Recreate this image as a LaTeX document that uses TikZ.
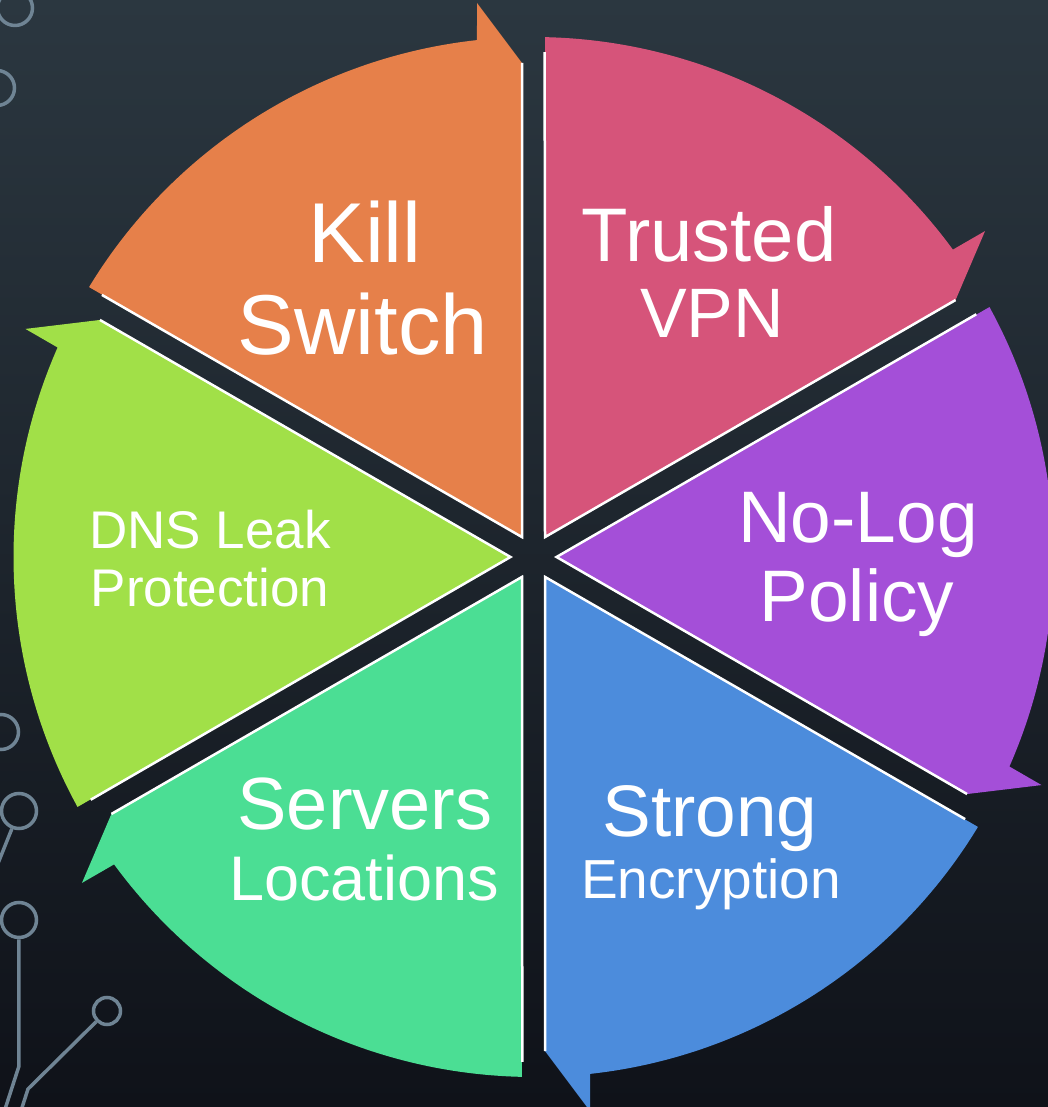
\documentclass[tikz,border=0pt]{standalone}
\usepackage{fontspec}
\setmainfont{Liberation Sans}
\definecolor{bgTop}{HTML}{2B3740}
\definecolor{bgBot}{HTML}{0F1219}
\definecolor{traceCol}{HTML}{6F8494}
\definecolor{segOrange}{HTML}{E6804A}
\definecolor{segPink}{HTML}{D6547A}
\definecolor{segPurple}{HTML}{A44FD8}
\definecolor{segBlue}{HTML}{4C8CDC}
\definecolor{segGreen}{HTML}{4BDE94}
\definecolor{segLime}{HTML}{A1E048}
\tikzset{
  pad/.style={circle, draw=traceCol, line width=3.5pt, minimum size=35pt, inner sep=0pt},
  trace/.style={draw=traceCol, line width=3.5pt},
  rim/.style={draw=white, line width=2.5pt},
  lbl/.style={text=white, anchor=base, inner sep=0pt},
}
\begin{document}
\begin{tikzpicture}[x=1pt, y=1pt]
  % canvas: centre of the wheel at the origin
  \useasboundingbox (-533.5,-550) rectangle (514.5,557);
  \clip (-533.5,-550) rectangle (514.5,557);
  \shade[top color=bgTop, bottom color=bgBot] (-533.5,-550) rectangle (514.5,557);

  % circuit traces along the left edge
  \node[pad] (pa) at (-518.5,549) {};
  \node[pad] (pb) at (-536.5,469) {};
  \node[pad] (pc) at (-532.5,-175) {};
  \node[pad] (pd) at (-514.5,-254) {};
  \node[pad] (pe) at (-514.5,-363) {};
  \node[pad, minimum size=27pt] (pf) at (-426.5,-454) {};
  \coordinate (d1) at (-545,-330);
  \coordinate (e1) at (-514.5,-509);
  \coordinate (e2) at (-531,-560);
  \coordinate (f1) at (-505.5,-532);
  \coordinate (f2) at (-514.5,-560);
  \draw[trace] (pd) -- (d1);
  \draw[trace] (pe) -- (e1) -- (e2);
  \draw[trace] (pf) -- (f1) -- (f2);

  % six arrow segments, one per 60 degrees, clockwise from the top
  \foreach \k/\col in {0/segOrange,1/segPink,2/segPurple,3/segBlue,4/segGreen,5/segLime}{
    \begin{scope}[rotate=-60*\k]
      \fill[\col] (-11.5,19.92) -- (-11.5,494) -- (-56.5,554) -- (96.24:520)
        arc[start angle=96.24, end angle=148.73, radius=520pt] -- cycle;
      \draw[rim] (-11.5,494) -- (-11.5,19.92) -- (148.73:505);
    \end{scope}
  }

  % labels
  \node[lbl, font=\fontsize{85}{92}\selectfont] (kill) at (-168.5,294) {Kill};
  \node[lbl, font=\fontsize{85}{92}\selectfont] (switch) at (-170.5,202) {Switch};
  \node[lbl, font=\fontsize{76}{80}\selectfont] (trusted) at (175.5,295) {Trusted};
  \node[lbl, font=\fontsize{70}{76}\selectfont] (vpn) at (178.5,219) {VPN};
  \node[lbl, font=\fontsize{73}{79}\selectfont] (nolog) at (324.5,14) {No-Log};
  \node[lbl, font=\fontsize{73}{79}\selectfont] (policy) at (323.5,-65) {Policy};
  \node[lbl, font=\fontsize{73}{79}\selectfont] (strong) at (176.5,-279) {Strong};
  \node[lbl, font=\fontsize{55}{60}\selectfont] (encryption) at (177.5,-341) {Encryption};
  \node[lbl, font=\fontsize{74}{80}\selectfont] (servers) at (-168.5,-272) {Servers};
  \node[lbl, font=\fontsize{63}{70}\selectfont] (locations) at (-169.5,-343) {Locations};
  \node[lbl, font=\fontsize{53}{58}\selectfont] (dns) at (-323.5,8) {DNS Leak};
  \node[lbl, font=\fontsize{53}{58}\selectfont] (protection) at (-323.5,-50) {Protection};
\end{tikzpicture}
\end{document}
